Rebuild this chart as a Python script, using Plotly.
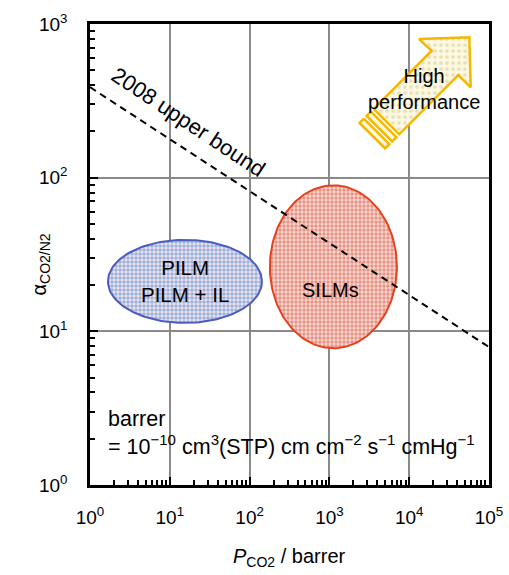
import numpy as np
import plotly.graph_objects as go

# ---- data ----
bound_x = [1, 1e5]
bound_y = [388, 7.9]

# ellipse regions: centre (log10 P, log10 alpha) and radii (decades)
pilm_center = (1.19, 1.325)
pilm_radii = (0.965, 0.27)
silm_center = (3.05, 1.42)
silm_radii = (0.796, 0.53)

# high performance arrow, vertices in log10 units (x, y)
arrow_x = [3.555, 4.282, 4.123, 4.753, 4.771, 4.615, 3.875]
arrow_y = [2.448, 2.826, 2.902, 2.913, 2.588, 2.668, 2.282]

x_tick_vals = [1, 10, 100, 1000, 10000, 100000]
x_tick_text = ["10<sup>0</sup>", "10<sup>1</sup>", "10<sup>2</sup>", "10<sup>3</sup>",
               "10<sup>4</sup>", "10<sup>5</sup>"]
y_tick_vals = [1, 10, 100, 1000]
y_tick_text = ["10<sup>0</sup>", "10<sup>1</sup>", "10<sup>2</sup>", "10<sup>3</sup>"]

font = "Liberation Sans, Arial, sans-serif"

fig = go.Figure()


def ellipse(c, r, n=160):
    t = np.linspace(0, 2 * np.pi, n)
    return 10 ** (c[0] + r[0] * np.cos(t)), 10 ** (c[1] + r[1] * np.sin(t))


ex, ey = ellipse(pilm_center, pilm_radii)
fig.add_trace(go.Scatter(x=ex, y=ey, mode="lines", fill="toself",
                         line=dict(color="#4a5cc0", width=2),
                         fillcolor="rgba(0,0,0,0)",
                         fillpattern=dict(shape=".", fgcolor="#3a82c8", bgcolor="#f5e3ee",
                                          size=4, solidity=0.6),
                         hoverinfo="skip", showlegend=False))

ex, ey = ellipse(silm_center, silm_radii)
fig.add_trace(go.Scatter(x=ex, y=ey, mode="lines", fill="toself",
                         line=dict(color="#e8401c", width=2),
                         fillcolor="rgba(0,0,0,0)",
                         fillpattern=dict(shape=".", fgcolor="#d8412b", bgcolor="#f9ddd7",
                                          size=4, solidity=0.55),
                         hoverinfo="skip", showlegend=False))

ax_ = [10 ** v for v in arrow_x] + [10 ** arrow_x[0]]
ay_ = [10 ** v for v in arrow_y] + [10 ** arrow_y[0]]
fig.add_trace(go.Scatter(x=ax_, y=ay_, mode="lines", fill="toself",
                         line=dict(color="#f5b700", width=2.5),
                         fillcolor="rgba(0,0,0,0)",
                         fillpattern=dict(shape=".", fgcolor="#cfc98a", bgcolor="#fdf8e2",
                                          size=6, solidity=0.3),
                         hoverinfo="skip", showlegend=False))

# tail stripes (offsets in pixels along shaft, converted to decades)
ux, uy = -0.707 / 79.8, -0.707 / 153.7
x_up, y_up = arrow_x[0], arrow_y[0]
x_lo, y_lo = arrow_x[6], arrow_y[6]
for a, b in [(4, 10), (14, 20)]:
    sx = [x_up + a * ux, x_lo + a * ux, x_lo + b * ux, x_up + b * ux, x_up + a * ux]
    sy = [y_up + a * uy, y_lo + a * uy, y_lo + b * uy, y_up + b * uy, y_up + a * uy]
    fig.add_trace(go.Scatter(x=[10 ** v for v in sx], y=[10 ** v for v in sy], mode="lines",
                             fill="toself", fillcolor="#fdf8e2",
                             line=dict(color="#f5b700", width=2.5),
                             hoverinfo="skip", showlegend=False))

fig.add_trace(go.Scatter(x=bound_x, y=bound_y, mode="lines",
                         line=dict(color="black", width=2, dash="7px,5px"),
                         hoverinfo="skip", showlegend=False))

tf = dict(family=font, color="black")
fig.add_annotation(x=1.24, y=2.36, text="2008 upper bound", showarrow=False,
                   textangle=33.5, font=dict(size=22, **tf))
fig.add_annotation(x=1.19, y=1.327, text="PILM<br>PILM + IL", showarrow=False,
                   font=dict(size=20.5, **tf))
fig.add_annotation(x=3.01, y=1.27, text="SILMs", showarrow=False,
                   font=dict(size=20, **tf))
fig.add_annotation(x=4.19, y=2.577, text="High<br>performance", showarrow=False,
                   font=dict(size=20, **tf))
fig.add_annotation(x=0.2, y=0.338, xanchor="left", align="left",
                   text="barrer<br>= 10<sup>−10</sup> cm<sup>3</sup>(STP) cm cm<sup>−2</sup> s<sup>−1</sup> cmHg<sup>−1</sup>",
                   showarrow=False, font=dict(size=21.5, **tf))

# axis titles
fig.add_annotation(xref="paper", yref="paper", x=0, y=0.5, xshift=-50, yshift=-10,
                   xanchor="center", yanchor="middle",
                   text="α<sub>CO2/N2</sub>", textangle=-90, showarrow=False,
                   font=dict(size=20, **tf))
fig.add_annotation(xref="paper", yref="paper", x=0.5, y=0, yshift=-72,
                   xanchor="center", yanchor="middle",
                   text="<i>P</i><sub>CO2</sub> / barrer", showarrow=False,
                   font=dict(size=20, **tf))


def minor_vals(lo, hi):
    return [m * 10 ** k for k in range(lo, hi) for m in range(2, 10)]


axis_common = dict(
    type="log", showline=True, linecolor="black", linewidth=2.5, mirror=True,
    ticks="inside", ticklen=8, tickwidth=2, tickcolor="black", automargin=False,
    showgrid=True, gridcolor="#8a8a8a", gridwidth=2, zeroline=False,
    tickfont=dict(family=font, size=19, color="black"),
)

fig.update_xaxes(range=[0, 5], tickmode="array", tickvals=x_tick_vals, ticktext=x_tick_text,
                 ticklabelstandoff=13,
                 minor=dict(tickmode="array", tickvals=minor_vals(0, 5), ticks="inside",
                            ticklen=5, tickwidth=1.5, tickcolor="black", showgrid=False),
                 **axis_common)
fig.update_yaxes(range=[0, 3], tickmode="array", tickvals=y_tick_vals, ticktext=y_tick_text,
                 ticklabelstandoff=16,
                 minor=dict(tickmode="array", tickvals=minor_vals(0, 3), ticks="inside",
                            ticklen=5, tickwidth=1.5, tickcolor="black", showgrid=False),
                 **axis_common)

fig.update_layout(width=509, height=575, margin=dict(l=90, r=20, t=24, b=90),
                  plot_bgcolor="white", paper_bgcolor="white", showlegend=False)

fig.write_html("out.html")
